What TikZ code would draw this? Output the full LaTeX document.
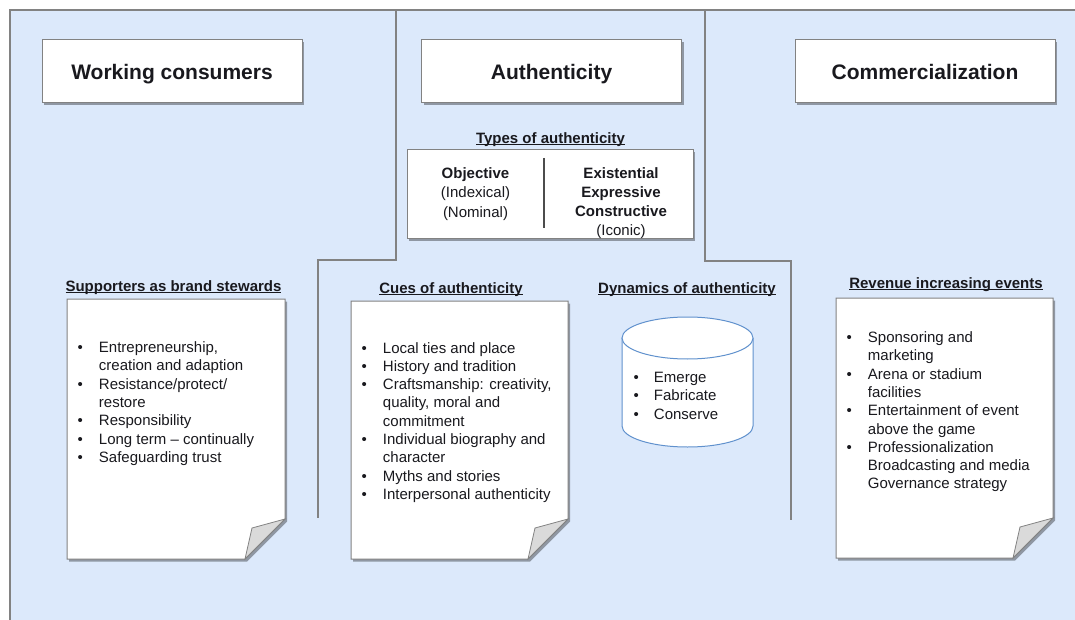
\documentclass[tikz,border=0pt]{standalone}
\usepackage{fontspec}
\setmainfont{Liberation Sans}
\usetikzlibrary{shadows}

\definecolor{panelblue}{RGB}{220,233,251}
\definecolor{framegray}{RGB}{130,130,130}
\definecolor{foldgray}{RGB}{218,218,218}
\definecolor{drumblue}{RGB}{96,145,205}
\definecolor{inkblack}{RGB}{25,25,30}

% underline close to the baseline
\newcommand{\uword}[1]{\setbox0\hbox{#1}\rlap{\rule[-1.8pt]{\wd0}{1pt}}\box0}

% page with a folded corner: x1, y1, x2, y2
\newcommand{\foldnote}[4]{
    \filldraw[draw=framegray, fill=white, line width=1pt, boxshadow]
        (#1,#2) -- (#3,#2) -- (#3,#4+40) -- (#3-40,#4) -- (#1,#4) -- cycle;
    \filldraw[draw=framegray, fill=foldgray, line width=0.8pt]
        (#3,#4+40) -- (#3-33,#4+31) -- (#3-40,#4) -- cycle;
}

\tikzset{
    boxshadow/.style={drop shadow={shadow xshift=2pt, shadow yshift=-2.5pt, opacity=0.35, fill=black}},
    header/.style={draw=framegray, fill=white, line width=1pt, boxshadow,
        minimum width=260, minimum height=63, inner sep=0pt, text=inkblack,
        text height=20pt, text depth=4pt,
        font=\fontsize{21}{25}\selectfont\bfseries},
    notelabel/.style={anchor=base, inner sep=0pt, text=inkblack,
        font=\fontsize{15}{18}\selectfont\bfseries},
    listtext/.style={anchor=north west, inner sep=0pt, text=inkblack,
        font=\fontsize{15}{18.3}\selectfont},
    divider/.style={draw=framegray, line width=1.5pt},
    drum/.style={draw=drumblue, fill=white, line width=1pt}
}

\begin{document}
\begin{tikzpicture}[x=1pt, y=1pt]
    \useasboundingbox (0,0) rectangle (1075,-620);

    % panel
    \fill[panelblue] (10,-10) rectangle (1075,-620);
    \draw[framegray, line width=1.5pt] (1075,-10) -- (10,-10) -- (10,-620);

    \draw[divider] (396,-10) -- (396,-260) -- (318,-260) -- (318,-518);
    \draw[divider] (705,-10) -- (705,-261) -- (791,-261) -- (791,-520);

    % column heads
    \node[header] (consumers) at (172,-71.5) {Working consumers};
    \node[header] (authenticity) at (551.5,-71.5) {Authenticity};
    \node[header] (commerce) at (925,-71.5) {Commercialization};

    % types
    \node[notelabel] (typeslabel) at (550.5,-143.5) {\uword{Types of authenticity}};
    \node[draw=framegray, fill=white, line width=1pt, boxshadow,
        minimum width=286, minimum height=89, inner sep=0pt] (types) at (550,-194.5) {};
    \draw[line width=2pt, black!70] (544,-158) -- (544,-228);
    \node[anchor=north, inner sep=0pt, text=inkblack, font=\fontsize{15}{19}\selectfont]
        (objective) at (475.5,-165) {\begin{tabular}{@{}c@{}}
        \textbf{Objective}\\
        (Indexical)\\[1pt]
        (Nominal)
        \end{tabular}};
    \node[anchor=north, inner sep=0pt, text=inkblack, font=\fontsize{15}{19}\selectfont]
        (existential) at (621,-165) {\begin{tabular}{@{}c@{}}
        \textbf{Existential}\\
        \textbf{Expressive}\\
        \textbf{Constructive}\\
        (Iconic)
        \end{tabular}};

    % working consumers
    \node[notelabel] (stewardslabel) at (173.5,-291.5) {\uword{Supporters as brand stewards}};
    \foldnote{67}{-299}{285}{-559}
    \node[listtext] (stewards) at (77.5,-339.5) {\begin{tabular}{@{}l@{\hspace{16pt}}l@{}}
        \textbullet & Entrepreneurship,\\
                    & creation and adaption\\
        \textbullet & Resistance/protect/\\
                    & restore\\
        \textbullet & Responsibility\\
        \textbullet & Long term -- continually\\
        \textbullet & Safeguarding trust
        \end{tabular}};

    % cues
    \node[notelabel] (cueslabel) at (451,-293.5) {\uword{Cues of authenticity}};
    \foldnote{351}{-301}{568}{-559}
    \node[listtext] (cues) at (361.5,-340) {\begin{tabular}{@{}l@{\hspace{16pt}}l@{}}
        \textbullet & Local ties and place\\
        \textbullet & History and tradition\\
        \textbullet & Craftsmanship: creativity,\\
                    & quality, moral and\\
                    & commitment\\
        \textbullet & Individual biography and\\
                    & character\\
        \textbullet & Myths and stories\\
        \textbullet & Interpersonal authenticity
        \end{tabular}};

    % dynamics
    \node[notelabel] (dynlabel) at (687,-293.5) {\uword{Dynamics of authenticity}};
    \filldraw[drum] (622,-338) -- (622,-426) arc (180:360:65.5 and 21) -- (753,-338);
    \filldraw[drum] (687.5,-338) ellipse (65.5 and 21);
    \node[listtext] (dynamics) at (633.5,-369.5) {\begin{tabular}{@{}l@{\hspace{15pt}}l@{}}
        \textbullet & Emerge\\
        \textbullet & Fabricate\\
        \textbullet & Conserve
        \end{tabular}};

    % commercialization
    \node[notelabel] (revenuelabel) at (946,-288.5) {\uword{Revenue increasing events}};
    \foldnote{836}{-298}{1053}{-558}
    \node[listtext] (revenue) at (846.5,-329.5) {\begin{tabular}{@{}l@{\hspace{16pt}}l@{}}
        \textbullet & Sponsoring and\\
                    & marketing\\
        \textbullet & Arena or stadium\\
                    & facilities\\
        \textbullet & Entertainment of event\\
                    & above the game\\
        \textbullet & Professionalization\\
                    & Broadcasting and media\\
                    & Governance strategy
        \end{tabular}};

\end{tikzpicture}
\end{document}
